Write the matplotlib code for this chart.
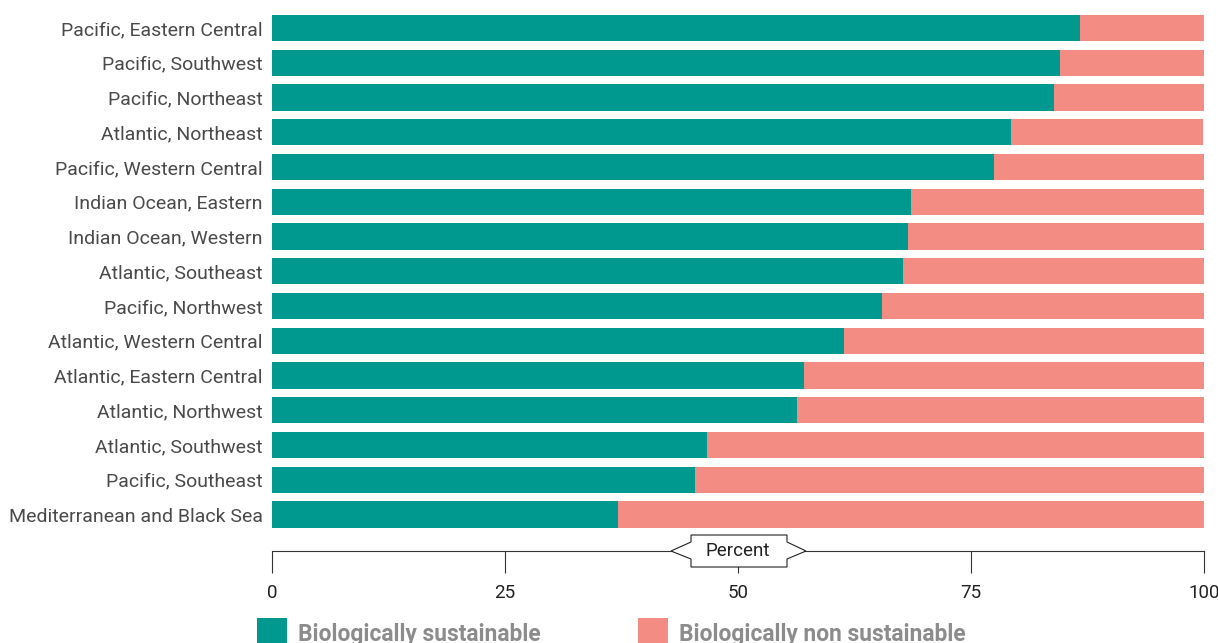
import matplotlib
matplotlib.use('Agg')
import matplotlib.pyplot as plt
from matplotlib.patches import Polygon, Rectangle
from matplotlib.transforms import Affine2D

regions = [
    "Pacific, Eastern Central", "Pacific, Southwest", "Pacific, Northeast",
    "Atlantic, Northeast", "Pacific, Western Central", "Indian Ocean, Eastern",
    "Indian Ocean, Western", "Atlantic, Southeast", "Pacific, Northwest",
    "Atlantic, Western Central", "Atlantic, Eastern Central", "Atlantic, Northwest",
    "Atlantic, Southwest", "Pacific, Southeast", "Mediterranean and Black Sea",
]
sustainable = [86.7, 84.6, 83.9, 79.3, 77.5, 68.6, 68.2, 67.7, 65.4, 61.4,
               57.1, 56.3, 46.7, 45.4, 37.1]
non_sustainable = [13.3, 15.4, 16.1, 20.6, 22.5, 31.4, 31.8, 32.3, 34.6, 38.6,
                   42.9, 43.7, 53.3, 54.6, 62.9]
x_ticks = [0, 25, 50, 75, 100]
legend_labels = ["Biologically sustainable", "Biologically non sustainable"]

TEAL = "#009990"
PINK = "#F38C83"
FONT = "Roboto"

W, H = 1218, 643
fig = plt.figure(figsize=(W / 100, H / 100), dpi=100)
px = Affine2D().scale(1 / W, -1 / H).translate(0, 1) + fig.transFigure

ax = fig.add_axes([272 / W, 1 - 551 / H, (1204 - 272) / W, (551 - 15) / H])
ypos = list(range(len(regions)))
ax.barh(ypos, sustainable, height=0.75, color=TEAL, linewidth=0)
ax.barh(ypos, non_sustainable, left=sustainable, height=0.75, color=PINK, linewidth=0)
ax.set_xlim(0, 100)
ax.set_ylim(15.05, -0.375)

ax.set_yticks(ypos)
ax.set_yticklabels(regions, fontfamily=FONT, fontsize=14, color="#4a4a4a")
ax.tick_params(axis="y", length=0, pad=6.5)
ax.set_xticks(x_ticks)
ax.set_xticklabels([str(t) for t in x_ticks], fontfamily=FONT, fontsize=13.5, color="#222222")
ax.tick_params(axis="x", direction="out", length=16, width=0.8, color="#333333", pad=8)
for s in ["top", "right", "left"]:
    ax.spines[s].set_visible(False)
ax.spines["bottom"].set_color("#333333")
ax.spines["bottom"].set_linewidth(0.8)

# "Percent" label box centred on the 50 tick
cx = ax.transData.transform((50, 0))[0]
cy = 551
shape = [(cx - 67, cy), (cx - 47, cy - 9), (cx - 47, cy - 16), (cx + 49, cy - 16),
         (cx + 49, cy - 9), (cx + 68, cy), (cx + 49, cy + 8), (cx + 49, cy + 16),
         (cx - 47, cy + 16), (cx - 47, cy + 8)]
fig.patches.append(Polygon(shape, closed=True, facecolor="white", edgecolor="#222222",
                           linewidth=0.8, transform=px, zorder=5))
fig.text(cx / W, 1 - cy / H, "Percent", ha="center", va="center", fontfamily=FONT,
         fontsize=13.5, color="#222222", zorder=6)

# Legend
for x0, lab, col in [(257, legend_labels[0], TEAL), (638, legend_labels[1], PINK)]:
    fig.patches.append(Rectangle((x0, 618), 30, 30, facecolor=col, edgecolor="none",
                                 transform=px))
    fig.text((x0 + 41) / W, 1 - 641 / H, lab, ha="left", va="baseline",
             fontfamily=FONT, fontsize=16.4, fontweight="bold", color="#8c8c8c")

fig.savefig("out.png", dpi=100)
